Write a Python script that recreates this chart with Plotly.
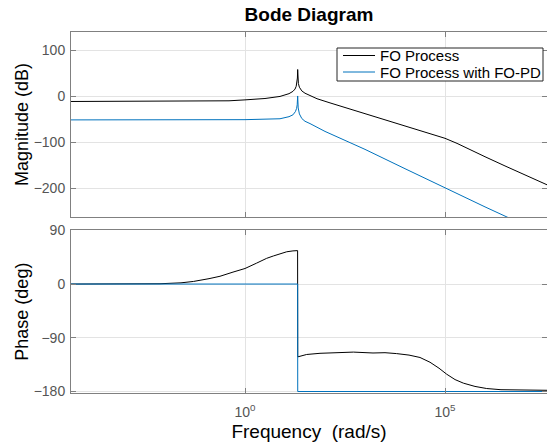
import plotly.graph_objects as go

# ---------------- data ----------------
# Magnitude, FO Process (black)
mag_w_black = [4.0e-5, 1.0e-2, 1.0e-1, 0.398, 1.0, 3.16, 7.50, 12.6, 15.8, 17.8, 19.05,
               19.95, 20.42, 20.75, 21.13, 21.63, 22.91, 26.3, 31.6, 42.2, 63.1,
               133.4, 1.0e3, 7.50e3, 1.58e4, 3.98e4, 1.0e5, 2.0e5, 3.98e5, 1.0e6,
               3.16e6, 1.0e7, 4.0e7]
mag_db_black = [-11, -11, -10.5, -9.5, -7.5, -4.5, 0, 6, 11, 16, 22,
                30, 40, 58.5, 38, 28, 20, 12, 7, 2, -5,
                -14, -37, -60, -70, -80, -91, -102, -115, -131,
                -151, -171, -194]

# Magnitude, FO Process with FO-PD (blue)
mag_w_blue = [4.0e-5, 1.0e-1, 1.0, 7.50, 12.6, 15.8, 18.2, 19.5, 20.18, 20.75,
              21.38, 22.91, 26.3, 31.6, 42.2, 100.0, 1.0e3, 1.0e4, 1.0e5, 1.0e6, 5.0e6]
mag_db_blue = [-51, -51, -50.5, -48.5, -44, -40, -33, -26, -18, 1,
               -25, -38, -48, -54, -59, -76, -115, -157, -199, -240, -268]

# Phase, FO Process (black)
ph_w_black = [4.0e-5, 3.16e-3, 7.50e-3, 2.51e-2, 5.13e-2, 0.126, 0.237, 0.501, 1.0,
              1.95, 3.47, 5.13, 11.0, 15.8, 19.95, 20.65, 20.80, 34.7, 75.0, 199.5,
              512.9, 1585, 3162, 6166, 1.26e4, 2.37e4, 4.22e4, 7.08e4, 1.10e5, 1.78e5,
              2.88e5, 5.62e5, 1.10e6, 2.51e6, 5.01e6, 1.58e7, 4.0e7]
ph_deg_black = [0, 0, 0.5, 2, 4.3, 9, 13, 20, 26,
                35, 43, 47, 54, 55.5, 56, 56, -122, -118, -116, -115,
                -114, -115.5, -115, -116.5, -119, -123, -131, -141, -151, -160,
                -166, -171.5, -175, -177, -177.5, -178, -178]

# Phase, FO Process with FO-PD (blue)
ph_w_blue = [4.0e-5, 20.70, 20.80, 4.0e7]
ph_deg_blue = [0, 0, -180, -180]

# axis ticks
x_tickvals = [1, 1e5]
x_ticktext = ["10<sup>0</sup>", "10<sup>5</sup>"]
mag_ticks = [-200, -100, 0, 100]
ph_ticks = [-180, -90, 0, 90]

series_names = ["FO Process", "FO Process with FO-PD"]

# ---------------- figure ----------------
FONT = "Liberation Sans, Arial, Helvetica, sans-serif"
BLACK = "#000000"
BLUE = "#0072BD"
AXC = "#808080"
GRIDC = "#e3e3e3"
TICKC = "#555555"

W, H = 547, 448
ML, MR, MT, MB = 71, 0, 32, 55
PW, PH = W - ML - MR, H - MT - MB


def px(x):  # figure pixel -> paper x
    return (x - ML) / PW


def py(y):  # figure pixel -> paper y
    return (H - MB - y) / PH


fig = go.Figure()
fig.add_trace(go.Scatter(x=mag_w_black, y=mag_db_black, mode="lines", name=series_names[0],
                         line=dict(color=BLACK, width=1), xaxis="x", yaxis="y"))
fig.add_trace(go.Scatter(x=mag_w_blue, y=mag_db_blue, mode="lines", name=series_names[1],
                         line=dict(color=BLUE, width=1), xaxis="x", yaxis="y"))
fig.add_trace(go.Scatter(x=ph_w_black, y=ph_deg_black, mode="lines", name=series_names[0],
                         line=dict(color=BLACK, width=1), xaxis="x2", yaxis="y2"))
fig.add_trace(go.Scatter(x=ph_w_blue, y=ph_deg_blue, mode="lines", name=series_names[1],
                         line=dict(color=BLUE, width=1), xaxis="x2", yaxis="y2"))

common_x = dict(type="log", range=[-4.35, 7.55], tickvals=x_tickvals, ticktext=x_ticktext,
                ticks="inside", ticklen=5, tickcolor=AXC, showline=True, linecolor=AXC,
                linewidth=1, mirror="ticks", showgrid=True, gridcolor=GRIDC, gridwidth=1,
                zeroline=False, automargin=False,
                tickfont=dict(family=FONT, size=14, color=TICKC))
common_y = dict(ticks="inside", ticklen=5, tickcolor=AXC, showline=True, linecolor=AXC,
                linewidth=1, mirror="ticks", showgrid=True, gridcolor=GRIDC, gridwidth=1,
                zeroline=False, automargin=False, ticklabelstandoff=2,
                tickfont=dict(family=FONT, size=14, color=TICKC))

# legend drawn in the MATLAB style (box, line samples, labels)
lg_x0, lg_x1, lg_y0, lg_y1 = 337, 543, 48, 81
row_y = [55.5, 72]
row_col = [BLACK, BLUE]
shapes = [dict(type="rect", xref="paper", yref="paper",
               x0=px(lg_x0), x1=px(lg_x1), y0=py(lg_y1), y1=py(lg_y0),
               fillcolor="white", line=dict(color="#262626", width=1), layer="above")]
annotations = []
for name, yy, col in zip(series_names, row_y, row_col):
    shapes.append(dict(type="line", xref="paper", yref="paper",
                       x0=px(343), x1=px(375), y0=py(yy), y1=py(yy),
                       line=dict(color=col, width=1), layer="above"))
    annotations.append(dict(text=name, xref="paper", yref="paper", x=px(378), y=py(yy),
                            xanchor="left", yanchor="middle", showarrow=False,
                            font=dict(family=FONT, size=15, color="black")))

fig.update_layout(
    width=W, height=H,
    margin=dict(l=ML, r=MR, t=MT, b=MB, autoexpand=False),
    paper_bgcolor="white", plot_bgcolor="white",
    font=dict(family=FONT, color="black"),
    title=dict(text="<b>Bode Diagram</b>", x=0.5, xref="paper", xanchor="center",
               y=1 - 14.5 / H, yref="container", yanchor="middle",
               font=dict(family=FONT, size=19, color="black")),
    xaxis=dict(domain=[0, 1], anchor="y", showticklabels=False, **common_x),
    yaxis=dict(domain=[0.4875, 1], anchor="x", range=[-262, 140], tickvals=mag_ticks,
               title=dict(text="Magnitude (dB)", standoff=0,
                          font=dict(family=FONT, size=18, color="black")), **common_y),
    xaxis2=dict(domain=[0, 1], anchor="y2", ticklabelstandoff=6,
                title=dict(text="Frequency \u00a0(rad/s)", standoff=5,
                           font=dict(family=FONT, size=19, color="black")), **common_x),
    yaxis2=dict(domain=[0, 0.4507], anchor="x2", range=[-182.5, 90], tickvals=ph_ticks,
                title=dict(text="Phase (deg)", standoff=0,
                           font=dict(family=FONT, size=18, color="black")), **common_y),
    shapes=shapes,
    annotations=annotations,
    showlegend=False,
    hovermode=False,
)

fig.write_html("out.html",
               config={"displayModeBar": False, "staticPlot": True},
               post_script="document.body.style.margin='0';document.body.style.overflow='hidden';")
